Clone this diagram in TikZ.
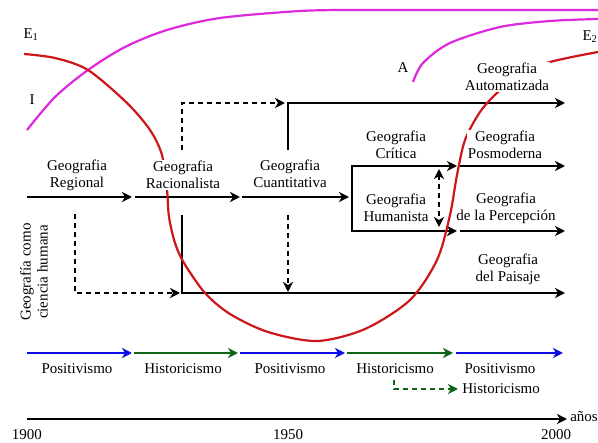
\documentclass[tikz,border=0pt]{standalone}
\usepackage{fontspec}
\setmainfont{Liberation Serif}
\usetikzlibrary{arrows.meta}
\definecolor{ered}{RGB}{205,22,26}
\definecolor{imag}{RGB}{222,40,222}
\definecolor{pblue}{RGB}{12,12,230}
\definecolor{hgreen}{RGB}{16,100,24}
\tikzset{
  arr/.style={-{Stealth[length=10pt,width=10pt,inset=3pt]}},
  darr/.style={{Stealth[length=10pt,width=10pt,inset=3pt]}-{Stealth[length=10pt,width=10pt,inset=3pt]}},
  dsh/.style={dash pattern=on 5pt off 4pt},
  lbl/.style={align=center,fill=white,inner sep=1pt},
}
\begin{document}
\begin{tikzpicture}[x=1pt,y=-1pt,line width=2.5pt,
    every node/.style={font=\fontsize{15}{17}\selectfont}]
  \useasboundingbox (0,0) rectangle (598,443);
  \draw[imag,line width=2.2pt] plot[smooth] coordinates {(27,130) (55,97) (88,70) (125,47) (167,30) (220,18) (300,11) (350,10)} -- (598,10);
  \draw[imag,line width=2.2pt] plot[smooth] coordinates {(413,82) (423,63) (450,43) (500,27) (550,21) (598,19)};
  \coordinate (a0) at (27,197);
  \coordinate (a1) at (132,197);
  \coordinate (a2) at (240,197);
  \coordinate (a3) at (349,197);
  \coordinate (b1) at (352,166);
  \coordinate (b2) at (352,231);
  \coordinate (bt) at (457,166);
  \coordinate (bb) at (457,231);
  \coordinate (bt2) at (565,166);
  \coordinate (bb2) at (565,231);
  \coordinate (c0) at (288,150);
  \coordinate (c1) at (565,103);
  \coordinate (d0) at (182,150);
  \coordinate (d1) at (285,103);
  \coordinate (e0) at (75,214);
  \coordinate (e1) at (180,293);
  \coordinate (f0) at (182,215);
  \coordinate (f1) at (565,293);
  \coordinate (g0) at (288,215);
  \coordinate (g1) at (288,292);
  \coordinate (h0) at (439,169);
  \coordinate (h1) at (439,227);
  \coordinate (t0) at (27,353);
  \coordinate (t1) at (132,353);
  \coordinate (t2) at (238,353);
  \coordinate (t3) at (345,353);
  \coordinate (t4) at (453,353);
  \coordinate (t5) at (563,353);
  \coordinate (hd0) at (394,380);
  \coordinate (x0) at (27,419);
  \coordinate (x1) at (567,419);
  \begin{scope}[every path/.style={arr}]
    \draw (a0) -- (a1);
    \draw[shorten <=3pt] (a1) -- (a2);
    \draw[shorten <=2pt] (a2) -- (a3);
    \draw[darr] (bt) -- (b1) -- (b2) -- (bb);
    \draw[shorten <=3pt] (bt) -- (bt2);
    \draw[shorten <=3pt] (bb) -- (bb2);
    \draw (c0) |- (c1);
    \draw[dsh] (d0) |- (d1);
    \draw[dsh] (e0) |- (e1);
    \draw (f0) |- (f1);
    \draw[dsh] (g0) -- (g1);
    \draw[dsh,darr] (h0) -- (h1);
    \draw[pblue] (t0) -- (t1);
    \draw[hgreen,shorten <=2pt] (t1) -- (t2);
    \draw[pblue,shorten <=2pt] (t2) -- (t3);
    \draw[hgreen,shorten <=2pt] (t3) -- (t4);
    \draw[pblue,shorten <=3pt] (t4) -- (t5);
    \draw (x0) -- (x1);
  \end{scope}
  \draw[ered,line width=2.2pt] plot[smooth] coordinates {(24,54) (55,58) (88,70) (127,103) (150,130) (162,155) (167,190) (169,217) (175,243) (184,263) (205,293) (230,314) (268,332) (317,341) (365,329) (410,300) (437,260) (450,215) (457,175) (465,140) (480,112) (497,93) (520,75) (550,62) (598,52)};
  \begin{scope}[every node/.style={lbl,font=\fontsize{15}{17}\selectfont}]
    \node (regional) at (77,175) {Geografia\\Regional};
    \node (racional) at (183,175) {Geografia\\Racionalista};
    \node (cuanti) at (290,174) {Geografia\\Cuantitativa};
    \node (critica) at (396,145) {Geografia\\Crítica};
    \node (humanista) at (396,208) {Geografia\\Humanista};
    \node (posmod) at (505,145) {Geografia\\Posmoderna};
    \node (percep) at (506,208) {Geografia\\de la Percepción};
    \node (paisaje) at (508,269) {Geografia\\del Paisaje};
    \node (automat) at (507,77) {Geografia\\Automatizada};
    \node[rotate=90] (ciencia) at (34,272) {Geografía como\\ciencia humana};
    \node[fill=none] (lblE1) at (31,35) {E\textsubscript{1}};
    \node[fill=none] (lblI) at (32,100) {I};
    \node[fill=none] (lblA) at (403,68) {A};
    \node[fill=none] (lblE2) at (590,37) {E\textsubscript{2}};
    \node (pos1) at (77,369) {Positivismo};
    \node (hist1) at (183,369) {Historicismo};
    \node (pos2) at (290,369) {Positivismo};
    \node (hist2) at (395,369) {Historicismo};
    \node (pos3) at (500,369) {Positivismo};
    \node (hist3) at (501,389) {Historicismo};
    \node (y1900) at (27,435) {1900};
    \node (y1950) at (288,435) {1950};
    \node (y2000) at (556,435) {2000};
    \node[anchor=west] (anos) at (568,417) {años};
  \end{scope}
  \draw[hgreen,dsh,arr,shorten >=2pt] (hd0) |- (hist3.west);
\end{tikzpicture}
\end{document}
